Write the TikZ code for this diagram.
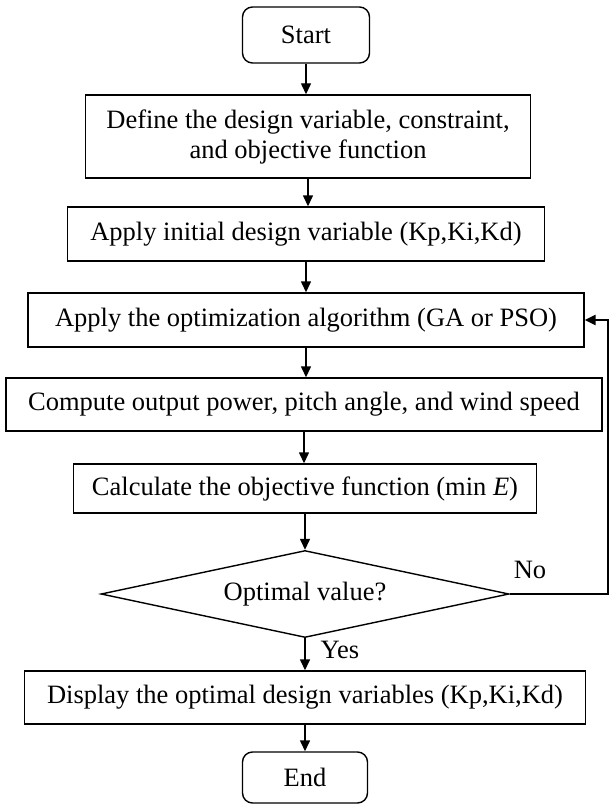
\documentclass[tikz,border=0pt]{standalone}
\usepackage{fontspec}
\setmainfont{Liberation Serif}
\usetikzlibrary{arrows.meta,shapes.geometric}

\begin{document}
\begin{tikzpicture}[
  x=1pt, y=-1pt,
  font=\fontsize{26.5}{30}\selectfont,
  box/.style={draw=black, line width=1.4pt, align=center, inner sep=2pt},
  term/.style={box, rounded corners=10pt},
  decision/.style={draw=black, line width=1.4pt, diamond, aspect=4.7, inner sep=0pt,
                   minimum width=408pt, minimum height=87pt},
  arr/.style={draw=black, line width=1.4pt, -{Triangle[length=11pt,width=10pt]}},
  back/.style={arr, line width=2.4pt}
]

\useasboundingbox (0,0) rectangle (611,805);

% ---- terminals
\node[term, minimum width=127pt, minimum height=56pt] (start) at (306,35) {Start};
\node[term, minimum width=125pt, minimum height=51pt] (stop) at (305,777.5) {End};

% ---- process steps
\node[box, minimum width=445pt, minimum height=83pt] (def) at (308,136.5)
  {Define the design variable, constraint,\\and objective function};
\node[box, minimum width=477pt, minimum height=54pt] (init) at (306,234)
  {Apply initial design variable (Kp,Ki,Kd)};
\node[box, minimum width=556pt, minimum height=54pt] (optim) at (306,320)
  {Apply the optimization algorithm (GA or PSO)};
\node[box, minimum width=596pt, minimum height=53pt] (comp) at (304,404.5)
  {Compute output power, pitch angle, and wind speed};
\node[box, minimum width=463pt, minimum height=49pt] (calc) at (305,488.5)
  {Calculate the objective function (min \textit{E})};
\node[decision] (check) at (305,594) {Optimal value?};
\node[box, minimum width=561pt, minimum height=53pt] (disp) at (305,697.5)
  {Display the optimal design variables (Kp,Ki,Kd)};

% ---- labels
\node (no) at (530,570) {No};
\node (yes) at (340,650) {Yes};

% ---- connectors
\draw[arr] (start.south) -- (start.south |- def.north);
\draw[arr] (def.south) -- (def.south |- init.north);
\draw[arr] (init.south) -- (init.south |- optim.north);
\draw[arr] (optim.south) -- (optim.south |- comp.north);
\draw[arr] (comp.south) -- (comp.south |- calc.north);
\draw[arr] (calc.south) -- (check.north);
\draw[arr] (check.south) -- (check.south |- disp.north);
\draw[arr] (disp.south) -- (disp.south |- stop.north);

% ---- loop back
\coordinate (loop) at (608,594);
\draw[back] (check.east) -- (loop) |- (optim.east);
\end{tikzpicture}
\end{document}
